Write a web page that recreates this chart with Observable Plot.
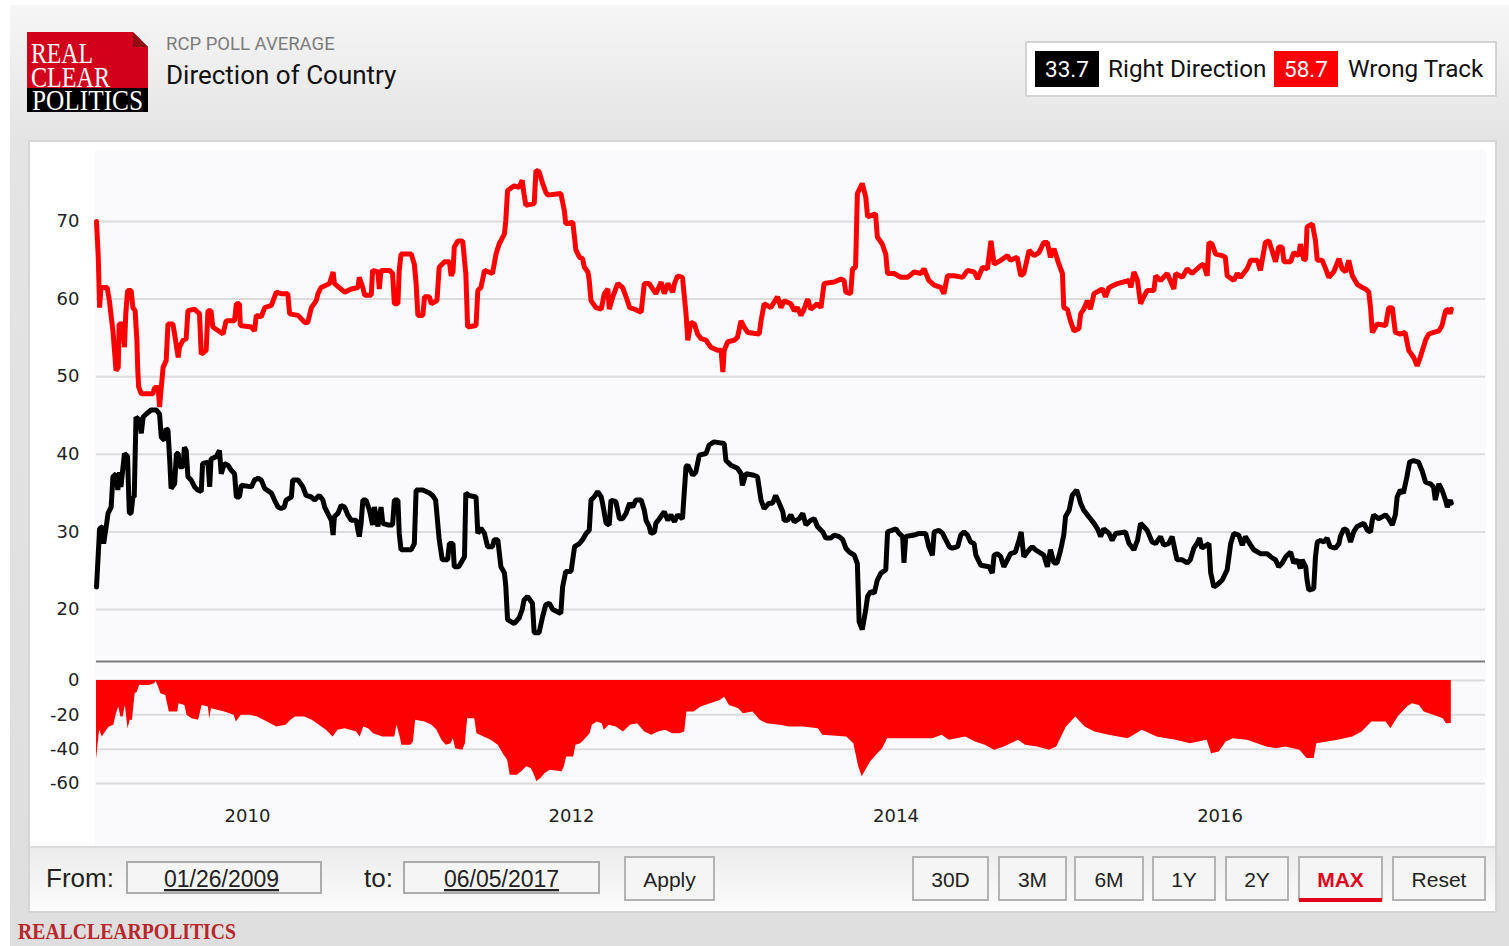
<!DOCTYPE html>
<html>
<head>
<meta charset="utf-8">
<title>RCP Poll Average – Direction of Country</title>
<script src="https://cdn.jsdelivr.net/npm/d3@7"></script>
<script src="https://cdn.jsdelivr.net/npm/@observablehq/plot@0.6"></script>
<style>
  html, body { margin: 0; padding: 0; background: #fff; }
  body { width: 1509px; height: 946px; position: relative; overflow: hidden; font-family: Roboto, "Liberation Sans", sans-serif; }
  .abs { position: absolute; }
  #widget { left: 10px; top: 5px; width: 1499px; height: 941px;
            background: linear-gradient(to bottom, #f6f6f6 0px, #e4e4e4 135px, #dedede 100%); }
  #panel { left: 28px; top: 140px; width: 1465px; height: 769px; border: 2px solid #d5d5d5; background: #fff; }
  #plotbg { left: 95px; top: 150px; width: 1391px; height: 696px; background: #fafafc; }
  #footer { left: 30px; top: 846px; width: 1465px; height: 63px; border-top: 2px solid #dcdcdc;
            background: linear-gradient(to bottom, #ececec, #fcfcfc); }
  #chrome { left: 0; top: 0; }
  #main { left: 30px; top: 150px; }
  #spreadChart { left: 30px; top: 661px; }
</style>
</head>
<body>
<div id="widget" class="abs"></div>
<div id="panel" class="abs"></div>
<div id="plotbg" class="abs"></div>
<div id="footer" class="abs"></div>

<svg id="chrome" class="abs" width="1509" height="946" xmlns="http://www.w3.org/2000/svg">
  <!-- logo -->
  <rect x="27" y="32" width="121" height="56" fill="#d2011b"/>
  <rect x="27" y="88" width="121" height="24" fill="#000"/>
  <polygon points="133,32 148,32 148,47" fill="#f1f1f1"/>
  <polygon points="133,32 148,47 133,47" fill="#930b16"/>
  <g font-family="'Liberation Serif', 'DejaVu Serif', serif" font-size="30" fill="#fff">
    <text x="31" y="63" textLength="62" lengthAdjust="spacingAndGlyphs">REAL</text>
    <text x="31" y="87" textLength="79" lengthAdjust="spacingAndGlyphs">CLEAR</text>
    <text x="32" y="110" textLength="111" lengthAdjust="spacingAndGlyphs">POLITICS</text>
  </g>
  <!-- titles -->
  <text x="166" y="49.5" font-family="Roboto" font-size="18.5" fill="#7d7d7d">RCP POLL AVERAGE</text>
  <text x="166" y="83.5" font-family="Roboto" font-size="26" fill="#111">Direction of Country</text>
  <!-- legend -->
  <rect x="1026" y="42" width="470" height="54" fill="#fff" stroke="#d3d3d3" stroke-width="2"/>
  <rect x="1035" y="51" width="64" height="36" fill="#000"/>
  <text id="rightValue" x="1067" y="77" text-anchor="middle" font-family="Roboto" font-size="22.5" fill="#fff"></text>
  <text x="1108" y="77" font-family="Roboto" font-size="24.3" fill="#111">Right Direction</text>
  <rect x="1274" y="51" width="64" height="36" fill="#ff0000"/>
  <text id="wrongValue" x="1306" y="77" text-anchor="middle" font-family="Roboto" font-size="22.5" fill="#fff"></text>
  <text x="1348" y="77" font-family="Roboto" font-size="24.3" fill="#111">Wrong Track</text>
  <!-- date range controls -->
  <g font-family="'Liberation Sans', Arial, sans-serif" fill="#222">
    <text x="46" y="887" font-size="26">From:</text>
    <rect x="127" y="862" width="194" height="31" fill="#f5f5f5" stroke="#ababab" stroke-width="2"/>
    <text x="221.5" y="887" font-size="23" text-anchor="middle" text-decoration="underline">01/26/2009</text>
    <text x="364" y="887" font-size="26">to:</text>
    <rect x="404" y="862" width="195" height="31" fill="#f5f5f5" stroke="#ababab" stroke-width="2"/>
    <text x="501.5" y="887" font-size="23" text-anchor="middle" text-decoration="underline">06/05/2017</text>
    <rect x="625" y="857" width="89" height="43" fill="#f5f5f5" stroke="#b3b3b3" stroke-width="2"/>
    <text x="669.5" y="887" font-size="21" text-anchor="middle">Apply</text>

    <rect x="913" y="857" width="75" height="43" fill="#f5f5f5" stroke="#b3b3b3" stroke-width="2"/>
    <text x="950.5" y="887" font-size="21" text-anchor="middle">30D</text>
    <rect x="999" y="857" width="67" height="43" fill="#f5f5f5" stroke="#b3b3b3" stroke-width="2"/>
    <text x="1032.5" y="887" font-size="21" text-anchor="middle">3M</text>
    <rect x="1075" y="857" width="68" height="43" fill="#f5f5f5" stroke="#b3b3b3" stroke-width="2"/>
    <text x="1109" y="887" font-size="21" text-anchor="middle">6M</text>
    <rect x="1153" y="857" width="62" height="43" fill="#f5f5f5" stroke="#b3b3b3" stroke-width="2"/>
    <text x="1184" y="887" font-size="21" text-anchor="middle">1Y</text>
    <rect x="1226" y="857" width="62" height="43" fill="#f5f5f5" stroke="#b3b3b3" stroke-width="2"/>
    <text x="1257" y="887" font-size="21" text-anchor="middle">2Y</text>
    <rect x="1299" y="857" width="83" height="43" fill="#f5f5f5" stroke="#b3b3b3" stroke-width="2"/>
    <rect x="1299" y="898" width="83" height="4" fill="#e0001b"/>
    <text x="1340.5" y="887" font-size="21" font-weight="bold" text-anchor="middle" fill="#e0001b">MAX</text>
    <rect x="1393" y="857" width="92" height="43" fill="#f5f5f5" stroke="#b3b3b3" stroke-width="2"/>
    <text x="1439" y="887" font-size="21" text-anchor="middle">Reset</text>
  </g>
  <text x="18" y="939" font-family="'Liberation Serif', serif" font-weight="bold" font-size="23" fill="#b8262b"
        textLength="218" lengthAdjust="spacingAndGlyphs">REALCLEARPOLITICS</text>
</svg>

<div id="main" class="abs"></div>
<div id="spreadChart" class="abs"></div>

<script>
// RCP average, "Wrong Track" (%)
const wrongTrack = [
  ["2009-01-26",70.0],["2009-01-30",65.4],["2009-02-02",58.9],["2009-02-05",61.5],["2009-02-19",61.5],
  ["2009-02-24",59.8],["2009-03-04",55.9],["2009-03-11",50.8],["2009-03-16",51.2],["2009-03-18",56.8],
  ["2009-03-26",56.8],["2009-03-30",53.8],["2009-04-02",58.1],["2009-04-06",61.1],["2009-04-14",61.1],
  ["2009-04-18",58.9],["2009-04-23",58.5],["2009-04-27",54.7],["2009-04-29",50.8],["2009-05-01",48.7],
  ["2009-05-07",47.8],["2009-06-02",47.8],["2009-06-06",48.6],["2009-06-14",48.6],["2009-06-17",46.1],
  ["2009-06-21",48.6],["2009-06-25",51.2],["2009-07-02",52.1],["2009-07-06",56.8],["2009-07-17",56.8],
  ["2009-07-21",55.5],["2009-07-29",52.5],["2009-08-01",53.8],["2009-08-09",54.7],["2009-08-16",54.9],
  ["2009-08-20",58.5],["2009-09-04",58.7],["2009-09-15",58.1],["2009-09-19",52.9],["2009-09-30",53.4],
  ["2009-10-04",58.5],["2009-10-11",58.5],["2009-10-15",56.4],["2009-11-07",55.5],["2009-11-14",57.2],
  ["2009-12-03",57.2],["2009-12-07",59.4],["2009-12-14",59.4],["2009-12-16",56.6],["2010-01-10",56.4],
  ["2010-01-17",55.9],["2010-01-21",57.9],["2010-02-01",57.7],["2010-02-09",58.9],["2010-02-24",59.2],
  ["2010-03-07",60.9],["2010-03-18",60.7],["2010-04-02",60.7],["2010-04-06",58.1],["2010-04-25",57.9],
  ["2010-05-10",57.0],["2010-05-17",57.0],["2010-05-25",58.9],["2010-06-05",59.8],["2010-06-09",60.7],
  ["2010-06-16",61.5],["2010-07-05",62.0],["2010-07-13",63.5],["2010-07-16",62.0],["2010-08-08",60.9],
  ["2010-08-23",61.3],["2010-09-07",61.5],["2010-09-10",62.8],["2010-09-18",61.5],["2010-09-22",60.5],
  ["2010-10-07",60.5],["2010-10-10",63.7],["2010-10-22",63.5],["2010-10-25",61.3],["2010-10-29",63.7],
  ["2010-11-17",63.7],["2010-11-24",63.3],["2010-11-28",59.4],["2010-12-06",59.4],["2010-12-09",63.7],
  ["2010-12-13",65.8],["2011-01-05",65.8],["2011-01-12",64.5],["2011-01-16",62.0],["2011-01-20",57.9],
  ["2011-01-31",57.9],["2011-02-04",60.3],["2011-02-15",60.3],["2011-02-19",59.4],["2011-03-04",59.8],
  ["2011-03-09",64.1],["2011-03-21",64.8],["2011-04-01",64.8],["2011-04-05",63.0],["2011-04-09",63.5],
  ["2011-04-12",66.7],["2011-04-20",67.5],["2011-05-01",67.5],["2011-05-05",65.0],["2011-05-08",63.3],
  ["2011-05-12",56.4],["2011-05-31",56.6],["2011-06-04",61.1],["2011-06-11",61.5],["2011-06-19",63.7],
  ["2011-07-07",63.3],["2011-07-15",65.8],["2011-07-22",67.1],["2011-08-03",68.4],["2011-08-06",70.1],
  ["2011-08-10",74.0],["2011-08-25",74.6],["2011-09-05",74.4],["2011-09-12",75.3],["2011-09-16",73.6],
  ["2011-09-20",72.1],["2011-10-09",72.3],["2011-10-13",76.6],["2011-10-20",76.4],["2011-10-28",74.9],
  ["2011-11-04",73.8],["2011-11-08",73.4],["2011-12-08",73.6],["2011-12-16",71.4],["2011-12-19",69.7],
  ["2012-01-04",69.9],["2012-01-11",66.3],["2012-01-19",65.4],["2012-01-26",65.2],["2012-01-30",64.1],
  ["2012-02-07",63.5],["2012-02-10",62.4],["2012-02-14",59.8],["2012-02-25",58.9],["2012-03-08",58.7],
  ["2012-03-15",60.7],["2012-03-23",61.3],["2012-03-26",58.7],["2012-04-03",60.3],["2012-04-14",62.0],
  ["2012-04-25",61.5],["2012-05-03",60.3],["2012-05-11",58.9],["2012-05-22",58.7],["2012-06-06",58.3],
  ["2012-06-13",62.0],["2012-06-24",62.0],["2012-07-09",60.7],["2012-07-21",62.2],["2012-07-28",60.7],
  ["2012-08-05",62.0],["2012-08-16",60.9],["2012-08-20",62.0],["2012-08-27",63.0],["2012-09-07",62.8],
  ["2012-09-15",58.1],["2012-09-19",54.7],["2012-09-26",57.0],["2012-10-04",56.8],["2012-10-11",55.5],
  ["2012-10-19",54.9],["2012-10-30",54.7],["2012-11-10",53.8],["2012-11-25",53.4],["2012-12-03",53.4],
  ["2012-12-07",50.6],["2012-12-10",53.4],["2012-12-18",54.5],["2013-01-02",54.7],["2013-01-09",55.1],
  ["2013-01-17",57.2],["2013-01-24",56.4],["2013-02-01",55.7],["2013-02-27",55.5],["2013-03-03",57.2],
  ["2013-03-10",59.4],["2013-03-25",58.9],["2013-04-09",60.3],["2013-04-17",58.9],["2013-04-24",59.8],
  ["2013-05-09",59.4],["2013-05-17",58.5],["2013-05-24",58.9],["2013-06-01",57.9],["2013-06-08",58.7],
  ["2013-06-16",60.0],["2013-06-23",58.7],["2013-07-08",59.4],["2013-07-16",58.9],["2013-07-23",62.0],
  ["2013-08-15",62.2],["2013-08-30",62.6],["2013-09-06",62.4],["2013-09-10",60.9],["2013-09-21",60.7],
  ["2013-09-25",63.9],["2013-10-02",64.1],["2013-10-06",73.6],["2013-10-17",74.9],["2013-10-25",73.1],
  ["2013-10-29",70.6],["2013-11-16",71.0],["2013-11-20",68.0],["2013-12-01",67.1],["2013-12-09",65.8],
  ["2013-12-13",63.3],["2013-12-28",63.3],["2014-01-12",62.8],["2014-01-27",62.8],["2014-02-11",63.5],
  ["2014-02-26",63.3],["2014-03-05",63.9],["2014-03-16",62.4],["2014-03-28",61.8],["2014-04-12",61.5],
  ["2014-04-19",60.7],["2014-04-27",63.0],["2014-05-12",63.0],["2014-05-31",62.8],["2014-06-11",63.7],
  ["2014-06-26",63.5],["2014-07-04",62.6],["2014-07-15",64.1],["2014-07-26",63.9],["2014-08-03",67.5],
  ["2014-08-10",64.5],["2014-08-25",65.0],["2014-09-09",65.6],["2014-09-16",65.0],["2014-10-01",65.4],
  ["2014-10-09",63.0],["2014-10-16",63.3],["2014-10-28",66.3],["2014-11-08",65.6],["2014-11-19",66.0],
  ["2014-11-30",67.3],["2014-12-08",67.3],["2014-12-15",65.4],["2014-12-23",66.5],["2015-01-03",64.5],
  ["2015-01-11",63.3],["2015-01-14",58.9],["2015-01-22",58.7],["2015-01-29",57.2],["2015-02-06",55.9],
  ["2015-02-17",56.2],["2015-02-21",58.1],["2015-02-28",58.7],["2015-03-08",59.8],["2015-03-15",58.7],
  ["2015-03-23",60.7],["2015-04-11",61.3],["2015-04-18",60.3],["2015-04-26",61.5],["2015-05-15",62.0],
  ["2015-06-10",62.4],["2015-06-14",61.5],["2015-06-21",63.5],["2015-06-29",62.4],["2015-07-06",59.4],
  ["2015-07-13",60.3],["2015-07-21",61.1],["2015-08-05",61.1],["2015-08-09",63.0],["2015-08-20",62.4],
  ["2015-09-04",63.3],["2015-09-19",61.3],["2015-09-23",63.3],["2015-10-08",62.8],["2015-10-19",63.9],
  ["2015-10-30",63.3],["2015-11-18",64.3],["2015-11-25",64.5],["2015-12-03",63.0],["2015-12-07",67.3],
  ["2015-12-14",67.1],["2015-12-22",65.8],["2016-01-06",65.6],["2016-01-13",65.4],["2016-01-17",63.0],
  ["2016-02-01",62.4],["2016-02-09",63.3],["2016-02-16",62.8],["2016-03-02",63.9],["2016-03-10",65.0],
  ["2016-03-25",65.0],["2016-04-01",63.7],["2016-04-12",67.3],["2016-04-20",67.5],["2016-04-27",66.3],
  ["2016-05-05",64.8],["2016-05-12",66.7],["2016-05-20",66.7],["2016-05-24",64.8],["2016-06-08",64.8],
  ["2016-06-15",66.0],["2016-06-26",65.6],["2016-06-30",67.1],["2016-07-08",65.0],["2016-07-12",65.2],
  ["2016-07-15",69.3],["2016-07-27",69.7],["2016-08-03",67.5],["2016-08-07",65.0],["2016-08-18",65.0],
  ["2016-08-26",63.9],["2016-09-02",62.8],["2016-09-13",63.5],["2016-09-25",65.2],["2016-10-02",63.9],
  ["2016-10-10",63.5],["2016-10-17",65.0],["2016-10-25",63.0],["2016-11-05",61.9],["2016-11-16",61.5],
  ["2016-11-24",61.3],["2016-12-01",60.9],["2016-12-05",58.9],["2016-12-09",55.7],["2016-12-20",56.8],
  ["2017-01-08",56.6],["2017-01-15",58.9],["2017-01-23",58.9],["2017-01-30",55.7],["2017-02-10",55.5],
  ["2017-02-21",55.7],["2017-03-01",53.4],["2017-03-12",52.5],["2017-03-20",51.4],["2017-03-27",52.5],
  ["2017-04-08",54.7],["2017-04-15",55.5],["2017-04-26",55.7],["2017-05-08",55.9],["2017-05-15",56.6],
  ["2017-05-23",58.5],["2017-05-30",58.7],["2017-06-02",58.1],["2017-06-05",58.7]
];

// RCP average, "Right Direction" (%)
const rightDirection = [
  ["2009-01-26",22.9],["2009-02-02",30.4],["2009-02-09",30.7],["2009-02-11",28.5],["2009-02-17",30.7],
  ["2009-02-21",32.4],["2009-02-28",33.2],["2009-03-04",37.1],["2009-03-11",37.5],["2009-03-15",35.4],
  ["2009-03-19",37.7],["2009-03-22",35.8],["2009-03-30",40.1],["2009-04-06",39.7],["2009-04-08",35.8],
  ["2009-04-10",32.4],["2009-04-14",32.4],["2009-04-18",34.5],["2009-04-21",34.5],["2009-04-25",44.8],
  ["2009-05-03",44.4],["2009-05-07",42.7],["2009-05-11",44.8],["2009-05-18",45.2],["2009-05-29",45.7],
  ["2009-06-10",45.7],["2009-06-17",45.2],["2009-06-21",42.2],["2009-06-28",41.8],["2009-07-02",43.3],
  ["2009-07-06",43.1],["2009-07-10",39.2],["2009-07-13",35.6],["2009-07-21",36.2],["2009-07-25",40.1],
  ["2009-07-29",40.1],["2009-08-01",38.4],["2009-08-09",38.4],["2009-08-12",40.9],["2009-08-16",40.5],
  ["2009-08-20",37.1],["2009-08-27",36.7],["2009-09-04",35.8],["2009-09-11",35.4],["2009-09-19",35.2],
  ["2009-09-22",38.8],["2009-10-04",39.0],["2009-10-08",35.8],["2009-10-11",39.4],["2009-10-23",39.7],
  ["2009-10-30",40.5],["2009-11-03",37.5],["2009-11-10",38.8],["2009-11-18",38.6],["2009-11-26",37.9],
  ["2009-12-03",37.5],["2009-12-07",34.5],["2009-12-14",34.5],["2009-12-18",36.0],["2010-01-10",35.8],
  ["2010-01-17",36.7],["2010-01-25",36.9],["2010-02-01",36.7],["2010-02-09",35.6],["2010-02-24",35.0],
  ["2010-03-03",34.1],["2010-03-11",33.2],["2010-03-18",33.0],["2010-03-25",33.2],["2010-03-29",34.1],
  ["2010-04-10",34.5],["2010-04-13",36.7],["2010-04-25",36.7],["2010-05-06",35.8],["2010-05-13",34.7],
  ["2010-05-25",34.5],["2010-06-01",34.1],["2010-06-12",34.7],["2010-06-20",34.1],["2010-06-24",33.2],
  ["2010-07-01",32.4],["2010-07-09",31.5],["2010-07-13",29.6],["2010-07-16",32.0],["2010-07-24",32.4],
  ["2010-07-31",33.4],["2010-08-08",33.2],["2010-08-15",32.2],["2010-08-23",31.5],["2010-09-03",31.5],
  ["2010-09-07",30.2],["2010-09-10",29.4],["2010-09-14",31.1],["2010-09-18",34.1],["2010-09-25",34.1],
  ["2010-10-03",32.8],["2010-10-10",30.9],["2010-10-14",33.2],["2010-10-22",30.7],["2010-10-29",33.2],
  ["2010-11-02",31.1],["2010-11-13",30.9],["2010-11-24",30.9],["2010-11-28",34.1],["2010-12-06",34.1],
  ["2010-12-09",29.8],["2010-12-13",27.7],["2011-01-05",27.7],["2011-01-12",28.5],["2011-01-16",35.4],
  ["2011-01-31",35.4],["2011-02-15",35.0],["2011-02-22",34.7],["2011-03-01",34.1],["2011-03-09",29.0],
  ["2011-03-16",26.4],["2011-03-28",26.4],["2011-04-01",28.5],["2011-04-09",28.5],["2011-04-12",25.5],
  ["2011-04-22",25.5],["2011-05-05",26.8],["2011-05-08",35.0],["2011-05-15",34.7],["2011-05-31",34.5],
  ["2011-06-04",29.8],["2011-06-11",30.5],["2011-06-19",29.8],["2011-06-26",28.1],["2011-07-07",28.1],
  ["2011-07-11",29.0],["2011-07-19",29.0],["2011-07-26",25.5],["2011-08-03",24.7],["2011-08-06",23.0],
  ["2011-08-10",18.7],["2011-08-25",18.2],["2011-09-05",18.9],["2011-09-12",20.0],["2011-09-16",21.2],
  ["2011-09-24",21.7],["2011-10-05",20.8],["2011-10-09",17.0],["2011-10-20",17.0],["2011-10-28",19.1],
  ["2011-11-04",20.6],["2011-11-12",20.8],["2011-11-20",20.0],["2011-12-08",19.5],["2011-12-12",22.9],
  ["2011-12-19",24.9],["2011-12-31",24.9],["2012-01-08",28.1],["2012-01-19",28.5],["2012-01-26",29.0],
  ["2012-02-03",29.8],["2012-02-10",30.2],["2012-02-14",34.1],["2012-02-21",34.5],["2012-02-29",35.2],
  ["2012-03-08",34.5],["2012-03-11",33.7],["2012-03-19",31.1],["2012-03-26",30.9],["2012-03-30",34.1],
  ["2012-04-10",33.9],["2012-04-18",31.7],["2012-04-25",31.7],["2012-05-03",32.4],["2012-05-11",33.7],
  ["2012-05-18",33.2],["2012-05-25",34.1],["2012-06-06",34.1],["2012-06-13",32.8],["2012-06-17",31.5],
  ["2012-06-24",30.7],["2012-06-28",29.8],["2012-07-06",30.0],["2012-07-09",31.1],["2012-07-17",31.7],
  ["2012-07-28",32.6],["2012-08-05",31.5],["2012-08-12",32.2],["2012-08-20",31.3],["2012-08-27",32.2],
  ["2012-09-07",31.7],["2012-09-15",38.4],["2012-09-19",38.6],["2012-09-30",37.3],["2012-10-07",37.7],
  ["2012-10-15",39.9],["2012-10-30",40.1],["2012-11-06",41.2],["2012-11-17",41.6],["2012-12-10",41.4],
  ["2012-12-14",39.2],["2012-12-25",38.6],["2013-01-09",38.2],["2013-01-17",37.5],["2013-01-20",36.0],
  ["2013-01-28",37.5],["2013-02-15",37.3],["2013-02-23",37.1],["2013-03-03",34.1],["2013-03-10",33.0],
  ["2013-03-21",33.7],["2013-03-29",33.7],["2013-04-05",34.7],["2013-04-13",33.7],["2013-04-21",32.6],
  ["2013-04-24",31.5],["2013-05-02",31.5],["2013-05-09",32.2],["2013-05-17",31.3],["2013-05-28",31.7],
  ["2013-06-05",32.4],["2013-06-12",30.9],["2013-06-23",31.5],["2013-07-01",31.7],["2013-07-08",30.7],
  ["2013-07-20",30.0],["2013-07-27",29.2],["2013-08-07",29.2],["2013-08-15",29.6],["2013-08-26",29.4],
  ["2013-09-03",29.0],["2013-09-10",27.9],["2013-09-18",27.4],["2013-09-29",27.0],["2013-10-06",25.9],
  ["2013-10-10",18.4],["2013-10-17",17.4],["2013-10-25",20.0],["2013-10-29",21.7],["2013-11-05",22.3],
  ["2013-11-13",22.1],["2013-11-20",23.8],["2013-11-28",24.7],["2013-12-09",25.1],["2013-12-13",30.0],
  ["2014-01-01",30.4],["2014-01-08",29.8],["2014-01-16",29.4],["2014-01-19",26.0],["2014-01-23",29.4],
  ["2014-02-11",29.6],["2014-02-22",29.8],["2014-03-09",29.8],["2014-03-16",28.1],["2014-03-24",27.0],
  ["2014-03-28",30.0],["2014-04-08",30.2],["2014-04-16",29.8],["2014-04-23",29.0],["2014-05-01",28.1],
  ["2014-05-08",27.9],["2014-05-20",28.1],["2014-05-27",29.6],["2014-06-03",30.0],["2014-06-11",29.6],
  ["2014-06-18",28.7],["2014-06-26",28.5],["2014-06-30",27.0],["2014-07-11",25.7],["2014-07-30",25.5],
  ["2014-08-06",24.7],["2014-08-10",27.0],["2014-08-17",27.2],["2014-08-25",26.8],["2014-09-01",25.5],
  ["2014-09-09",26.4],["2014-09-16",27.2],["2014-09-27",27.4],["2014-10-05",28.9],["2014-10-10",30.0],
  ["2014-10-16",26.8],["2014-10-28",27.7],["2014-11-04",28.1],["2014-11-11",27.7],["2014-11-30",27.0],
  ["2014-12-08",25.5],["2014-12-15",27.7],["2014-12-23",26.0],["2014-12-30",26.0],["2015-01-07",27.7],
  ["2015-01-14",29.6],["2015-01-18",32.0],["2015-01-26",32.8],["2015-02-02",34.7],["2015-02-12",35.4],
  ["2015-02-17",34.5],["2015-02-21",33.7],["2015-02-28",32.8],["2015-03-08",32.2],["2015-03-15",31.7],
  ["2015-03-23",31.1],["2015-03-31",30.4],["2015-04-07",29.4],["2015-04-14",30.4],["2015-04-26",29.8],
  ["2015-05-03",28.9],["2015-05-11",29.8],["2015-06-02",30.0],["2015-06-10",28.5],["2015-06-21",27.7],
  ["2015-06-29",28.9],["2015-07-06",31.1],["2015-07-13",30.7],["2015-07-21",30.2],["2015-08-01",28.7],
  ["2015-08-09",28.5],["2015-08-20",29.4],["2015-08-27",28.3],["2015-09-07",28.5],["2015-09-15",29.4],
  ["2015-09-23",27.2],["2015-09-26",26.4],["2015-10-08",26.4],["2015-10-19",26.0],["2015-10-26",26.4],
  ["2015-11-03",27.9],["2015-11-10",28.5],["2015-11-16",29.2],["2015-11-21",27.9],["2015-12-07",28.5],
  ["2015-12-11",24.7],["2015-12-18",22.9],["2015-12-26",23.2],["2016-01-06",23.8],["2016-01-17",25.1],
  ["2016-01-25",28.5],["2016-02-01",29.8],["2016-02-12",29.6],["2016-02-20",28.3],["2016-02-27",29.4],
  ["2016-03-10",28.3],["2016-03-17",27.7],["2016-04-01",27.2],["2016-04-16",27.2],["2016-04-24",26.8],
  ["2016-05-05",26.4],["2016-05-12",25.5],["2016-05-20",26.0],["2016-05-28",26.8],["2016-06-08",27.4],
  ["2016-06-15",26.0],["2016-06-23",26.4],["2016-06-30",25.3],["2016-07-04",26.4],["2016-07-12",25.5],
  ["2016-07-15",23.8],["2016-07-19",22.5],["2016-07-30",22.7],["2016-08-03",26.8],["2016-08-07",28.7],
  ["2016-08-14",28.9],["2016-08-22",28.7],["2016-08-29",29.2],["2016-09-05",28.1],["2016-09-17",27.9],
  ["2016-09-25",28.5],["2016-09-28",29.4],["2016-10-06",30.4],["2016-10-13",30.2],["2016-10-21",28.7],
  ["2016-10-28",30.0],["2016-11-05",30.7],["2016-11-20",31.1],["2016-11-28",30.2],["2016-12-05",30.0],
  ["2016-12-09",31.5],["2016-12-12",32.2],["2016-12-23",31.7],["2017-01-08",32.2],["2017-01-15",31.7],
  ["2017-01-23",30.9],["2017-01-30",32.2],["2017-02-03",34.5],["2017-02-10",35.4],["2017-02-17",35.0],
  ["2017-02-25",37.1],["2017-03-03",39.0],["2017-03-12",39.2],["2017-03-23",39.0],["2017-03-31",37.9],
  ["2017-04-08",36.4],["2017-04-19",36.2],["2017-04-26",35.8],["2017-04-30",34.1],["2017-05-08",36.2],
  ["2017-05-15",35.4],["2017-05-23",34.1],["2017-05-27",33.2],["2017-06-03",34.1],["2017-06-05",33.7]
];

// Spread (Right Direction minus Wrong Track, points)
const spread = [
  ["2009-01-26",-46.0],["2009-02-02",-29.0],["2009-02-08",-32.9],["2009-02-18",-29.0],["2009-02-24",-27.1],
  ["2009-03-06",-26.1],["2009-03-11",-20.3],["2009-03-17",-15.5],["2009-03-22",-21.3],["2009-03-27",-21.3],
  ["2009-04-01",-14.5],["2009-04-07",-28.1],["2009-04-12",-23.2],["2009-04-17",-23.2],["2009-04-23",-7.7],
  ["2009-04-28",-6.8],["2009-05-03",-2.9],["2009-05-25",-2.9],["2009-06-06",-1.9],["2009-06-09",-0.5],
  ["2009-06-15",-3.9],["2009-06-20",-7.7],["2009-07-01",-8.7],["2009-07-09",-18.4],["2009-07-28",-18.4],
  ["2009-07-31",-13.5],["2009-08-13",-14.5],["2009-08-18",-20.3],["2009-08-29",-22.3],["2009-09-13",-23.2],
  ["2009-09-21",-14.5],["2009-10-05",-15.5],["2009-10-08",-22.3],["2009-10-12",-16.4],["2009-10-26",-17.4],
  ["2009-11-11",-18.4],["2009-12-02",-20.3],["2009-12-07",-24.2],["2009-12-18",-20.3],["2010-01-08",-20.3],
  ["2010-01-24",-21.3],["2010-02-15",-24.2],["2010-03-08",-27.1],["2010-03-29",-26.1],["2010-04-09",-23.2],
  ["2010-04-19",-21.3],["2010-05-10",-21.3],["2010-05-27",-23.2],["2010-06-12",-26.1],["2010-06-28",-29.0],
  ["2010-07-13",-32.9],["2010-07-24",-29.0],["2010-08-09",-28.1],["2010-09-04",-30.0],["2010-09-12",-32.9],
  ["2010-09-20",-27.1],["2010-10-01",-28.1],["2010-10-12",-31.0],["2010-10-22",-31.9],["2010-11-02",-32.9],
  ["2010-11-29",-32.9],["2010-12-04",-26.1],["2010-12-11",-32.9],["2010-12-15",-37.7],["2011-01-04",-37.7],
  ["2011-01-10",-35.8],["2011-01-15",-23.2],["2011-02-05",-24.2],["2011-02-21",-26.1],["2011-03-04",-29.0],
  ["2011-03-15",-34.8],["2011-03-25",-37.7],["2011-04-05",-36.8],["2011-04-10",-33.9],["2011-04-15",-39.7],
  ["2011-05-01",-40.6],["2011-05-07",-36.8],["2011-05-12",-22.3],["2011-05-28",-22.3],["2011-06-02",-31.0],
  ["2011-06-18",-32.9],["2011-07-04",-34.8],["2011-07-20",-37.7],["2011-07-31",-42.6],["2011-08-10",-46.4],
  ["2011-08-16",-55.2],["2011-09-01",-55.2],["2011-09-11",-53.2],["2011-09-22",-50.3],["2011-10-02",-51.3],
  ["2011-10-08",-54.2],["2011-10-15",-59.0],["2011-10-24",-57.1],["2011-11-03",-54.2],["2011-11-14",-52.3],
  ["2011-12-11",-53.2],["2011-12-16",-50.3],["2011-12-21",-44.5],["2012-01-06",-44.5],["2012-01-11",-37.7],
  ["2012-01-22",-36.8],["2012-02-02",-33.9],["2012-02-12",-31.0],["2012-02-17",-26.1],["2012-02-28",-24.2],
  ["2012-03-10",-25.2],["2012-03-15",-29.0],["2012-03-26",-26.1],["2012-04-11",-27.1],["2012-04-27",-30.0],
  ["2012-05-13",-26.1],["2012-05-29",-25.2],["2012-06-14",-30.0],["2012-06-30",-31.9],["2012-07-15",-30.0],
  ["2012-07-31",-29.0],["2012-08-16",-31.0],["2012-09-01",-31.0],["2012-09-12",-30.0],["2012-09-17",-18.4],
  ["2012-10-03",-18.4],["2012-10-19",-15.5],["2012-11-09",-13.5],["2012-12-01",-11.6],["2012-12-11",-9.7],
  ["2012-12-22",-14.5],["2013-01-12",-16.4],["2013-01-22",-19.4],["2013-02-13",-18.4],["2013-03-01",-23.2],
  ["2013-03-17",-25.2],["2013-04-15",-26.1],["2013-05-06",-27.1],["2013-06-07",-27.1],["2013-07-10",-28.1],
  ["2013-07-20",-31.9],["2013-09-12",-32.9],["2013-09-28",-36.8],["2013-10-09",-50.3],["2013-10-17",-56.1],
  ["2013-10-25",-52.3],["2013-11-05",-47.4],["2013-11-21",-42.6],["2013-12-02",-39.7],["2013-12-13",-33.9],
  ["2014-01-19",-33.9],["2014-03-25",-33.9],["2014-04-15",-31.9],["2014-05-01",-34.8],["2014-06-07",-32.9],
  ["2014-06-29",-35.8],["2014-07-21",-37.7],["2014-08-11",-40.6],["2014-09-02",-38.7],["2014-10-04",-34.8],
  ["2014-10-20",-37.7],["2014-11-16",-38.7],["2014-12-13",-40.6],["2014-12-29",-38.7],["2015-01-20",-27.1],
  ["2015-02-10",-21.3],["2015-03-03",-27.1],["2015-03-25",-30.0],["2015-04-26",-31.9],["2015-06-08",-33.9],
  ["2015-07-10",-29.0],["2015-08-12",-32.9],["2015-09-24",-34.8],["2015-10-26",-36.8],["2015-12-03",-34.8],
  ["2015-12-13",-42.6],["2015-12-30",-41.6],["2016-01-15",-35.8],["2016-01-31",-33.9],["2016-03-03",-34.8],
  ["2016-04-15",-38.7],["2016-05-07",-39.7],["2016-05-28",-38.7],["2016-06-29",-40.6],["2016-07-15",-45.5],
  ["2016-07-31",-45.5],["2016-08-06",-36.8],["2016-09-23",-34.8],["2016-10-26",-32.9],["2016-11-16",-30.0],
  ["2016-12-08",-24.2],["2017-01-09",-24.2],["2017-01-20",-28.1],["2017-02-05",-21.3],["2017-02-26",-15.5],
  ["2017-03-09",-13.5],["2017-03-25",-14.5],["2017-04-05",-18.4],["2017-04-26",-20.3],["2017-05-18",-22.3],
  ["2017-05-25",-25.2],["2017-06-05",-25.0]
];

// Axis ticks
const mainTicks = [20, 30, 40, 50, 60, 70];
const spreadTicks = [0, -20, -40, -60];
const yearTicks = ["2010-01-01", "2012-01-01", "2014-01-01", "2016-01-01"];
const dateRange = ["2009-01-26", "2017-08-21"];

const parse = d3.utcParse("%Y-%m-%d");
const rows = (arr) => arr.map(([d, v]) => ({date: parse(d), value: v}));
const right = rows(rightDirection);
const wrong = rows(wrongTrack);
const gap = rows(spread);
const xDomain = dateRange.map(parse);
const mainDomain = [13.3, 75];

// Latest values in the legend
document.getElementById("rightValue").textContent = right[right.length - 1].value.toFixed(1);
document.getElementById("wrongValue").textContent = wrong[wrong.length - 1].value.toFixed(1);

const baseStyle = {
  fontFamily: "'DejaVu Sans', Verdana, sans-serif",
  fontSize: "18px",
  color: "#222",
  background: "transparent",
  overflow: "visible"
};

const mainChart = Plot.plot({
  width: 1465,
  height: 511,
  marginLeft: 66,
  marginRight: 10,
  marginTop: 32.2,
  marginBottom: 0,
  style: baseStyle,
  x: {type: "utc", domain: xDomain, axis: null},
  y: {domain: mainDomain, ticks: mainTicks, tickSize: 0, tickPadding: 17, tickFormat: d => String(d), label: null},
  marks: [
    Plot.ruleY(mainTicks, {stroke: "#dcdcdc", strokeWidth: 2}),
    Plot.ruleY([mainDomain[0]], {stroke: "#7c7c7c", strokeWidth: 2}),
    Plot.line(right, {x: "date", y: "value", stroke: "#000", strokeWidth: 5, strokeLinejoin: "miter"}),
    Plot.line(wrong, {x: "date", y: "value", stroke: "#ff0000", strokeWidth: 5, strokeLinejoin: "miter"})
  ]
});
document.getElementById("main").append(mainChart);

const spreadChart = Plot.plot({
  width: 1465,
  height: 184,
  marginLeft: 66,
  marginRight: 10,
  marginTop: 19,
  marginBottom: 62,
  style: baseStyle,
  x: {type: "utc", domain: xDomain, ticks: yearTicks.map(parse), tickFormat: "%Y", tickSize: 0, tickPadding: 26, label: null},
  y: {domain: [-60, 0], ticks: spreadTicks, tickSize: 0, tickPadding: 17, tickFormat: d => String(d), label: null},
  marks: [
    Plot.ruleY(spreadTicks, {stroke: "#dcdcdc", strokeWidth: 2}),
    Plot.areaY(gap, {x: "date", y: "value", fill: "#ff0000"})
  ]
});
document.getElementById("spreadChart").append(spreadChart);
</script>
</body>
</html>
